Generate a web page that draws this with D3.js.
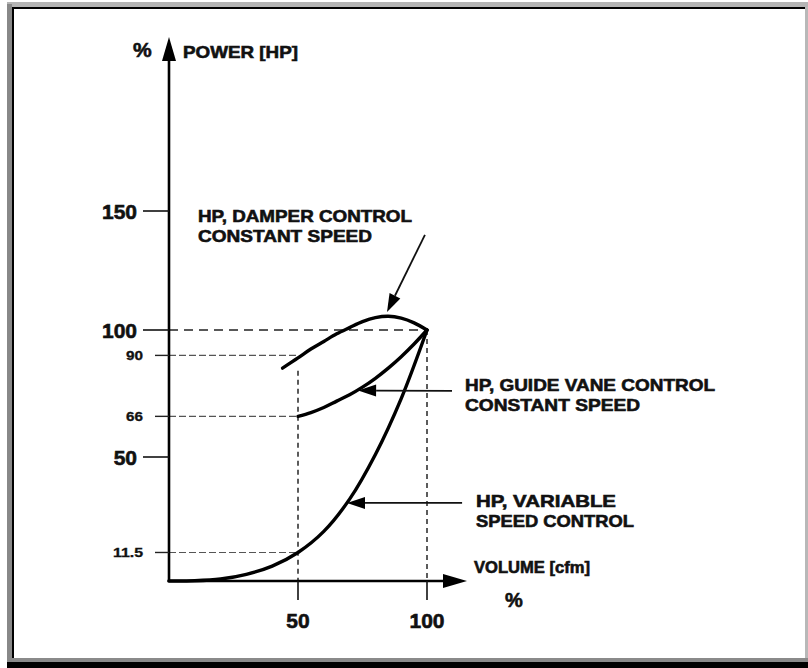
<!DOCTYPE html>
<html>
<head>
<meta charset="utf-8">
<script src="https://cdn.jsdelivr.net/npm/d3@7"></script>
<style>
  html, body { margin: 0; padding: 0; background: #fff; }
  svg { display: block; }
  text { font-family: "Liberation Sans", Arial, Helvetica, sans-serif; font-weight: bold; fill: #111; stroke: #111; stroke-width: 0.6px; }
</style>
</head>
<body>
<svg id="chart" width="808" height="668"></svg>
<script>
// ---------- data ----------
const xTicks = [50, 100];
const xTickLabels = ["50", "100"];
const yTicks = [50, 100, 150];
const yTickLabels = ["50", "100", "150"];
const yMinorTicks = [90, 66, 11.5];
const yMinorLabels = ["90", "66", "11.5"];

const damperX = [44, 50, 55, 60, 65, 70, 75, 80, 85, 90, 95, 100];
const damperY = [85, 89, 92.5, 95.5, 98.5, 101, 103.5, 105.2, 105.8, 105, 103, 100];

const guideX = [50, 55, 60, 65, 70, 75, 80, 85, 90, 95, 100];
const guideY = [66, 67.5, 69.5, 72, 74.5, 77.5, 81, 85, 89.5, 94.5, 100];

const variableX = [0, 10, 20, 30, 40, 50, 60, 70, 80, 90, 100];
const variableY = [0, 0.1, 0.8, 2.7, 6, 11.5, 20, 33, 51, 73, 100];

const annotationLabels = [
  ["HP, DAMPER CONTROL", "CONSTANT SPEED"],
  ["HP, GUIDE VANE CONTROL", "CONSTANT SPEED"],
  ["HP, VARIABLE", "SPEED CONTROL"]
];
// arrow: [fromX, fromY, toX (tip), toY (tip)] in data units
const annotationArrows = [
  [99.2, 140, 84.5, 107.6],
  [109.7, 76, 73.3, 76.2],
  [113.6, 31.5, 69, 31.5]
];

// ---------- scales ----------
const svg = d3.select("#chart");
const x = d3.scaleLinear().domain([0, 100]).range([169, 427]);
const y = d3.scaleLinear().domain([0, 50, 100, 150]).range([581, 457, 330, 211]);

// ---------- frame ----------
const frame = svg.append("g");
frame.append("rect").attr("x", 7).attr("y", 2).attr("width", 801).attr("height", 5).attr("fill", "#b4b4b4");
frame.append("rect").attr("x", 7).attr("y", 4).attr("width", 5).attr("height", 658).attr("fill", "#888");
frame.append("rect").attr("x", 12).attr("y", 7).attr("width", 793).attr("height", 2).attr("fill", "#000");
frame.append("rect").attr("x", 12).attr("y", 7).attr("width", 2).attr("height", 651).attr("fill", "#000");
frame.append("rect").attr("x", 805).attr("y", 7).attr("width", 3).attr("height", 655).attr("fill", "#b8b8b8");
frame.append("rect").attr("x", 12).attr("y", 658).attr("width", 796).attr("height", 4).attr("fill", "#8a8a8a");
frame.append("rect").attr("x", 7).attr("y", 662).attr("width", 801).attr("height", 6).attr("fill", "#000");

const g = svg.append("g");

// ---------- guide lines ----------
g.append("line")
  .attr("x1", x(0)).attr("x2", x(100)).attr("y1", y(100)).attr("y2", y(100))
  .attr("stroke", "#222").attr("stroke-width", 1.6).attr("stroke-dasharray", "9,6");
yMinorTicks.forEach((v) => {
  g.append("line")
    .attr("x1", x(0)).attr("x2", x(50)).attr("y1", y(v)).attr("y2", y(v))
    .attr("stroke", "#555").attr("stroke-width", 1.2).attr("stroke-dasharray", "7,3");
});
g.append("line")
  .attr("x1", x(50)).attr("x2", x(50)).attr("y1", y(84)).attr("y2", y(0))
  .attr("stroke", "#333").attr("stroke-width", 1.6).attr("stroke-dasharray", "5,4");
g.append("line")
  .attr("x1", x(100)).attr("x2", x(100)).attr("y1", y(100)).attr("y2", y(0))
  .attr("stroke", "#333").attr("stroke-width", 1.6).attr("stroke-dasharray", "5,4");

// ---------- axes ----------
const axisColor = "#000";
g.append("line").attr("x1", x(0)).attr("x2", x(0)).attr("y1", y(0) + 1).attr("y2", 58)
  .attr("stroke", axisColor).attr("stroke-width", 2.6);
g.append("path").attr("d", d3.line()([[x(0), 37], [x(0) - 7, 61], [x(0) + 7, 61]]) + "Z").attr("fill", axisColor);
g.append("line").attr("x1", x(0) - 1.3).attr("x2", 448).attr("y1", y(0)).attr("y2", y(0))
  .attr("stroke", axisColor).attr("stroke-width", 2.6);
g.append("path").attr("d", d3.line()([[467, y(0)], [443, y(0) - 7], [443, y(0) + 7]]) + "Z").attr("fill", axisColor);

yTicks.forEach((v, i) => {
  g.append("line").attr("x1", 143).attr("x2", x(0)).attr("y1", y(v)).attr("y2", y(v))
    .attr("stroke", "#111").attr("stroke-width", 1.6);
  g.append("text").attr("x", 137).attr("y", y(v)).attr("dy", "0.36em")
    .attr("text-anchor", "end").style("font-size", "21px").text(yTickLabels[i]);
});
yMinorTicks.forEach((v, i) => {
  g.append("line").attr("x1", 155).attr("x2", x(0)).attr("y1", y(v)).attr("y2", y(v))
    .attr("stroke", "#222").attr("stroke-width", 1.4);
  const w = yMinorLabels[i].length > 2 ? 30 : 17;
  g.append("text").attr("x", 143 - w).attr("y", y(v)).attr("dy", "0.36em")
    .attr("textLength", w).attr("lengthAdjust", "spacingAndGlyphs")
    .style("font-size", "12px").style("stroke-width", "0.3px").text(yMinorLabels[i]);
});
xTicks.forEach((v, i) => {
  g.append("line").attr("x1", x(v)).attr("x2", x(v)).attr("y1", y(0)).attr("y2", y(0) + 19)
    .attr("stroke", "#111").attr("stroke-width", 1.6);
  g.append("text").attr("x", x(v)).attr("y", 628)
    .attr("text-anchor", "middle").style("font-size", "21px").text(xTickLabels[i]);
});

g.append("text").attr("x", 133).attr("y", 57).style("font-size", "21px").text("%");
g.append("text").attr("x", 183).attr("y", 58).attr("textLength", 115).attr("lengthAdjust", "spacingAndGlyphs")
  .style("font-size", "17px").text("POWER [HP]");
g.append("text").attr("x", 474).attr("y", 573).attr("textLength", 116).attr("lengthAdjust", "spacingAndGlyphs")
  .style("font-size", "16px").text("VOLUME [cfm]");
g.append("text").attr("x", 514).attr("y", 607).attr("text-anchor", "middle").style("font-size", "20px").text("%");

// ---------- curves ----------
const line = d3.line().x(d => x(d[0])).y(d => y(d[1])).curve(d3.curveCatmullRom.alpha(0.5));
const curves = [
  d3.zip(damperX, damperY),
  d3.zip(guideX, guideY),
  d3.zip(variableX, variableY)
];
curves.forEach(c => {
  g.append("path").attr("d", line(c)).attr("fill", "none")
    .attr("stroke", "#000").attr("stroke-width", 3.4).attr("stroke-linecap", "round");
});

// ---------- annotations ----------
function arrow(a) {
  const x1 = x(a[0]), y1 = y(a[1]), x2 = x(a[2]), y2 = y(a[3]);
  const ang = Math.atan2(y2 - y1, x2 - x1);
  const L = 18, W = 6;
  const bx = x2 - L * Math.cos(ang), by = y2 - L * Math.sin(ang);
  g.append("line").attr("x1", x1).attr("y1", y1).attr("x2", bx).attr("y2", by)
    .attr("stroke", "#111").attr("stroke-width", 1.8);
  const p = [[x2, y2],
             [bx + W * Math.sin(ang), by - W * Math.cos(ang)],
             [bx - W * Math.sin(ang), by + W * Math.cos(ang)]];
  g.append("path").attr("d", d3.line()(p) + "Z").attr("fill", "#000");
}
annotationArrows.forEach(arrow);

const labelPos = [[198, 222], [465, 391], [476, 507]];
const labelWidths = [[214, 174], [250, 175], [140, 158]];
annotationLabels.forEach((lines, i) => {
  lines.forEach((t, j) => {
    g.append("text").attr("x", labelPos[i][0]).attr("y", labelPos[i][1] + j * 20)
      .attr("textLength", labelWidths[i][j]).attr("lengthAdjust", "spacingAndGlyphs")
      .style("font-size", "17px").text(t);
  });
});
</script>
</body>
</html>
